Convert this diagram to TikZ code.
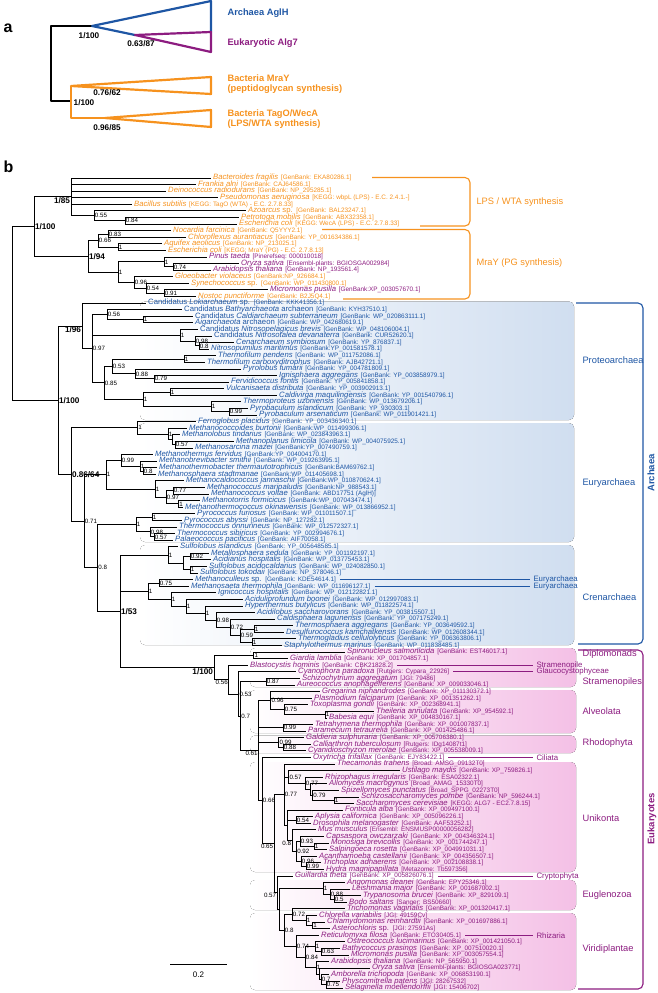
\documentclass[tikz,border=0pt]{standalone}
\usepackage{fontspec}
\setmainfont{Liberation Sans}
\definecolor{bact}{RGB}{246,146,30}
\definecolor{arch}{RGB}{30,86,164}
\definecolor{euk}{RGB}{140,28,128}
\definecolor{archbg}{RGB}{208,222,240}
\definecolor{eukbg}{RGB}{244,192,230}

% one tip: colour, row, end of branch, species, accession
\newcommand{\leaf}[5]{%
  \coordinate (t#2) at (#3,#2);
  \node[lf, text=#1] (l#2) at (t#2) {{\fontsize{7.7}{8}\selectfont\itshape #4} {\fontsize{6.4}{7}\selectfont #5}};}
% branches from a node to its children
\newcommand{\kids}[2]{\foreach \ch in {#2} {\draw[br] (#1) |- (\ch);}}
% support values
\newcommand{\sv}[3][west]{\node[supp, anchor=#1] (s#2) at (#2) {#3};}
\newcommand{\svb}[3][west]{\node[suppb, anchor=#1] (s#2) at (#2) {#3};}

\begin{document}
\begin{tikzpicture}[x=1pt, y=-1pt,
  br/.style={line width=0.9pt},
  lf/.style={anchor=west, inner sep=0pt, xshift=2pt, text height=5pt, text depth=1.4pt},
  supp/.style={inner sep=0.7pt, font=\fontsize{6.2}{7}\selectfont},
  suppb/.style={inner sep=0.8pt, font=\bfseries\fontsize{8.2}{9}\selectfont},
  grp/.style={anchor=west, font=\fontsize{9.3}{10}\selectfont},
  sub/.style={anchor=west, font=\fontsize{7.8}{9}\selectfont},
  tri/.style={line width=2.2pt, line join=round},
  brak/.style={line width=1.1pt, rounded corners=5pt},
  band/.style={left color=white, rounded corners=5pt}]
\useasboundingbox (0,0) rectangle (658,993);

% ---- panel a
\node[anchor=base west, font=\bfseries\fontsize{16}{18}\selectfont] (pa) at (0,32) {a};
\draw[tri] (92,26) -- (51,26) -- (51,101) -- (71,101);
\draw[tri, arch] (135,35) -- (92,26) -- (211,1) -- (211,32);
\draw[tri, euk] (135,35) -- (211,32) -- (211,52) -- cycle;
\draw[tri, bact] (71,86) -- (71,118) -- (105,118);
\draw[tri, bact] (71,86) -- (211,77) -- (211,94) -- cycle;
\draw[tri, bact] (105,118) -- (211,110) -- (211,127) -- cycle;
\node[suppb] (a1) at (89,36) {1/100};
\node[suppb] (a2) at (141,44) {0.63/87};
\node[suppb] (a3) at (107,93) {0.76/62};
\node[suppb] (a4) at (84,103) {1/100};
\node[suppb] (a5) at (107,128) {0.96/85};
\node[anchor=west, text=arch, font=\bfseries\fontsize{9.3}{10}\selectfont] (agl) at (224,13) {Archaea AglH};
\node[anchor=west, text=euk, font=\bfseries\fontsize{9.3}{10}\selectfont] (alg) at (224,43) {Eukaryotic Alg7};
\node[anchor=west, text=bact, font=\bfseries\fontsize{9.3}{10.5}\selectfont, align=left] (mra) at (224,84) {Bacteria MraY\\(peptidoglycan synthesis)};
\node[anchor=west, text=bact, font=\bfseries\fontsize{9.3}{10.5}\selectfont, align=left] (tag) at (224,119) {Bacteria TagO/WecA\\(LPS/WTA synthesis)};

% ---- panel b, coloured bands and brackets
\node[anchor=base west, font=\bfseries\fontsize{16}{18}\selectfont] (pb) at (0,172) {b};
\fill[band, right color=archbg] (140,301.5) rectangle (574,420);
\fill[band, right color=archbg] (140,423) rectangle (574,542);
\fill[band, right color=archbg] (140,545) rectangle (574,645);
\fill[band, right color=eukbg] (250,648) rectangle (576,687);
\fill[band, right color=eukbg] (250,690) rectangle (576,733);
\fill[band, right color=eukbg] (250,735.5) rectangle (576,753);
\fill[band, right color=eukbg] (250,762) rectangle (576,872);
\fill[band, right color=eukbg] (250,880) rectangle (576,910);
\fill[band, right color=eukbg] (250,913) rectangle (576,990);

\draw[brak, bact] (372,177.5) -- (470,177.5) -- (470,226) -- (420,226);
\draw[brak, bact] (322,229.5) -- (470,229.5) -- (470,299) -- (343,299);
\draw[brak, arch] (576,303) -- (643,303) -- (643,644) -- (578,644);
\draw[brak, euk] (578,650) -- (643,650) -- (643,989) -- (578,989);
\node[grp, text=bact] (lps) at (473,201.7) {LPS / WTA synthesis};
\node[grp, text=bact] (pg) at (473,262.7) {MraY (PG synthesis)};
\node[rotate=90, text=arch, font=\bfseries\fontsize{9.5}{10}\selectfont] (gar) at (651,473) {Archaea};
\node[rotate=90, text=euk, font=\bfseries\fontsize{9.5}{10}\selectfont] (geu) at (652,819) {Eukaryotes};
\node[grp, text=arch] (gpr) at (579,360) {Proteoarchaea};
\node[grp, text=arch] (gey) at (579,483) {Euryarchaea};
\node[grp, text=arch] (gcr) at (579,597) {Crenarchaea};
\node[grp, text=euk] (gdi) at (579,654) {Diplomonads};
\node[grp, text=euk] (gst) at (579,682) {Stramenopiles};
\node[grp, text=euk] (gal) at (579,711) {Alveolata};
\node[grp, text=euk] (grh) at (579,743) {Rhodophyta};
\node[grp, text=euk] (gun) at (579,818) {Unikonta};
\node[grp, text=euk] (geg) at (579,895) {Euglenozoa};
\node[grp, text=euk] (gvi) at (579,949) {Viridiplantae};

% scale bar
\coordinate (sb1) at (170,964.3);
\coordinate (sb2) at (227,964.3);
\draw[br] (sb1) -- (sb2);
\node[font=\fontsize{8}{9}\selectfont] (sbl) at (198.5,975) {0.2};

\begin{scope}[y=-6.585pt, yshift=-171.4pt]
% bacteria
\leaf{bact}{1}{211}{Bacteroides fragilis}{[GenBank: EKA80286.1]}
\leaf{bact}{2}{196}{Frankia alni}{[GenBank: CAJ64586.1]}
\leaf{bact}{3}{166}{Deinococcus radiodurans}{[GenBank: NP\_295285.1]}
\leaf{bact}{4}{218}{Pseudomonas aeruginosa}{[KEGG: wbpL (LPS) - E.C. 2.4.1.-]}
\leaf{bact}{5}{132}{Bacillus subtilis}{[KEGG: TagO (WTA) - E.C. 2.7.8.33]}
\leaf{bact}{6}{246}{Azoarcus \textup{sp.}}{[GenBank: BAL23247.1]}
\leaf{bact}{7}{239}{Petrotoga mobilis}{[GenBank: ABX32358.1]}
\leaf{bact}{8}{237}{Escherichia coli}{[KEGG: WecA (LPS) - E.C. 2.7.8.33]}
\leaf{bact}{9}{171}{Nocardia farcinica}{[GenBank: Q5YYY2.1]}
\leaf{bact}{10}{186}{Chloroflexus aurantiacus}{[GenBank: YP\_001634386.1]}
\leaf{bact}{11}{162}{Aquifex aeolicus}{[GenBank: NP\_213025.1]}
\leaf{bact}{12}{166}{Escherichia coli}{[KEGG: MraY (PG) - E.C. 2.7.8.13]}
\leaf{euk}{13}{207}{Pinus taeda}{[Pinerefseq: 000010018]}
\leaf{euk}{14}{239}{Oryza sativa}{[Ensembl-plants: BGIOSGA002984]}
\leaf{euk}{15}{211}{Arabidopsis thaliana}{[GenBank: NP\_193561.4]}
\leaf{bact}{16}{173}{Gloeobacter violaceus}{[GenBank:NP\_926684.1]}
\leaf{bact}{17}{189}{Synechococcus \textup{sp.}}{[GenBank: WP\_011430800.1]}
\leaf{euk}{18}{268}{Micromonas pusilla}{[GenBank:XP\_003057670.1]}
\leaf{bact}{19}{196}{Nostoc punctiforme}{[GenBank: B2J5Q4.1]}
% archaea
\leaf{arch}{20}{146}{\textup{Candidatus} Lokiarchaeum \textup{sp.}}{[GenBank: KKK41356.1]}
\leaf{arch}{21}{182}{\textup{Candidatus} Bathyarchaeota \textup{archaeon}}{[GenBank: KYH37510.1]}
\leaf{arch}{22}{193}{\textup{Candidatus} Caldiarchaeum subterraneum}{[GenBank: WP\_020863111.1]}
\leaf{arch}{23}{193}{Aigarchaeota \textup{archaeon}}{[GenBank: WP\_042680619.1]}
\leaf{arch}{24}{198}{\textup{Candidatus} Nitrosopelagicus brevis}{[GenBank: WP\_048106004.1]}
\leaf{arch}{25}{212}{\textup{Candidatus} Nitrosotalea devanaterra}{[GenBank: CUR52620.1]}
\leaf{arch}{26}{234}{Cenarchaeum symbiosum}{[GenBank: YP\_876837.1]}
\leaf{arch}{27}{209}{Nitrosopumilus maritimus}{[GenBank:YP\_001581578.1]}
\leaf{arch}{28}{216}{Thermofilum pendens}{[GenBank: WP\_011752086.1]}
\leaf{arch}{29}{205}{Thermofilum carboxyditrophus}{[GenBank: AJB42721.1]}
\leaf{arch}{30}{241}{Pyrolobus fumarii}{[GenBank: YP\_004781809.1]}
\leaf{arch}{31}{277}{Ignisphaera aggregans}{[GenBank: YP\_003858979.1]}
\leaf{arch}{32}{229}{Fervidicoccus fontis}{[GenBank: YP\_005841858.1]}
\leaf{arch}{33}{224}{Vulcanisaeta distributa}{[GenBank: YP\_003902913.1]}
\leaf{arch}{34}{277}{Caldivirga maquilingensis}{[GenBank: YP\_001540796.1]}
\leaf{arch}{35}{241}{Thermoproteus uzoniensis}{[GenBank: WP\_013679206.1]}
\leaf{arch}{36}{248}{Pyrobaculum islandicum}{[GenBank: YP\_930303.1]}
\leaf{arch}{37}{257}{Pyrobaculum arsenaticum}{[GenBank: WP\_011901421.1]}
\leaf{arch}{38}{196}{Ferroglobus placidus}{[GenBank: YP\_003436340.1]}
\leaf{arch}{39}{187}{Methanococcoides burtonii}{[GenBank:WP\_011499306.1]}
\leaf{arch}{40}{180}{Methanolobus tindarius}{[GenBank: WP\_023843963.1]}
\leaf{arch}{41}{234}{Methanoplanus limicola}{[GenBank: WP\_004075925.1]}
\leaf{arch}{42}{193}{Methanosarcina mazei}{[GenBank:YP\_007490759.1]}
\leaf{arch}{43}{153}{Methanothermus fervidus}{[GenBank:YP\_004004170.1]}
\leaf{arch}{44}{157}{Methanobrevibacter smithii}{[GenBank: WP\_019263995.1]}
\leaf{arch}{45}{157}{Methanothermobacter thermautotrophicus}{[GenBank:BAM69762.1]}
\leaf{arch}{46}{156}{Methanosphaera stadtmanae}{[GenBank:WP\_011405698.1]}
\leaf{arch}{47}{184}{Methanocaldococcus jannaschii}{[GenBank:WP\_010870624.1]}
\leaf{arch}{48}{205}{Methanococcus maripaludis}{[GenBank:NP\_988543.1]}
\leaf{arch}{49}{209}{Methanococcus voltae}{[GenBank: ABD17751 (AglH)]}
\leaf{arch}{50}{200}{Methanotorris formicicus}{[GenBank:WP\_007043474.1]}
\leaf{arch}{51}{183}{Methanothermococcus okinawensis}{[GenBank: WP\_013866952.1]}
\leaf{arch}{52}{195}{Pyrococcus furiosus}{[GenBank: WP\_011011507.1]}
\leaf{arch}{53}{182}{Pyrococcus abyssi}{[GenBank: NP\_127282.1]}
\leaf{arch}{54}{177}{Thermococcus onnurineus}{[GenBank: WP\_012572327.1]}
\leaf{arch}{55}{175}{Thermococcus sibiricus}{[GenBank: YP\_002994676.1]}
\leaf{arch}{56}{173}{Palaeococcus pacificus}{[GenBank: AIF70058.1]}
\leaf{arch}{57}{178}{Sulfolobus islandicus}{[GenBank: YP\_005648585.1]}
\leaf{arch}{58}{209}{Metallosphaera sedula}{[GenBank: YP\_001192197.1]}
\leaf{arch}{59}{211}{Acidianus hospitalis}{[GenBank: WP\_013775453.1]}
\leaf{arch}{60}{207}{Sulfolobus acidocaldarius}{[GenBank: WP\_024082850.1]}
\leaf{arch}{61}{198}{Sulfolobus tokodaii}{[GenBank: NP\_378046.1]}
\leaf{arch}{62}{193}{Methanoculleus \textup{sp.}}{[GenBank: KDE54614.1]}
\leaf{arch}{63}{189}{Methanosaeta thermophila}{[GenBank: WP\_011696127.1]}
\leaf{arch}{64}{216}{Ignicoccus hospitalis}{[GenBank: WP\_012122821.1]}
\leaf{arch}{65}{243}{Aciduliprofundum boonei}{[GenBank: WP\_012997083.1]}
\leaf{arch}{66}{243}{Hyperthermus butylicus}{[GenBank: WP\_011822574.1]}
\leaf{arch}{67}{255}{Acidilobus saccharovorans}{[GenBank: YP\_003815507.1]}
\leaf{arch}{68}{275}{Caldisphaera lagunensis}{[GenBank: YP\_007175249.1]}
\leaf{arch}{69}{293}{Thermosphaera aggregans}{[GenBank: YP\_003649592.1]}
\leaf{arch}{70}{284}{Desulfurococcus kamchatkensis}{[GenBank: WP\_012608344.1]}
\leaf{arch}{71}{296}{Thermogladius cellulolyticus}{[GenBank: YP\_006363806.1]}
\leaf{arch}{72}{282}{Staphylothermus marinus}{[GenBank: WP\_011838485.1]}
% eukaryotes
\leaf{euk}{73}{345}{Spironucleus salmonicida}{[GenBank: EST46017.1]}
\leaf{euk}{74}{288}{Giardia lamblia}{[GenBank: XP\_001704857.1]}
\leaf{euk}{75}{248}{Blastocystis hominis}{[GenBank: CBK21828.2]}
\leaf{euk}{76}{296}{Cyanophora paradoxa}{[Rutgers: Cypara\_22926]}
\leaf{euk}{77}{300}{Schizochytrium aggregatum}{[JGI: 79486]}
\leaf{euk}{78}{295}{Aureococcus anophagefferens}{[GenBank: XP\_009033046.1]}
\leaf{euk}{79}{320}{Gregarina niphandrodes}{[GenBank: XP\_011130372.1]}
\leaf{euk}{80}{312}{Plasmodium falciparum}{[GenBank: XP\_001351262.1]}
\leaf{euk}{81}{308}{Toxoplasma gondii}{[GenBank: XP\_002368941.1]}
\leaf{euk}{82}{374}{Theileria annulata}{[GenBank: XP\_954592.1]}
\leaf{euk}{83}{327}{Babesia equi}{[GenBank: XP\_004830167.1]}
\leaf{euk}{84}{313}{Tetrahymena thermophila}{[GenBank: XP\_001007837.1]}
\leaf{euk}{85}{306}{Paramecium tetraurelia}{[GenBank: XP\_001425486.1]}
\leaf{euk}{86}{304}{Galdieria sulphuraria}{[GenBank: XP\_005706380.1]}
\leaf{euk}{87}{311}{Calliarthron tuberculosum}{[Rutgers: IDg14087t1]}
\leaf{euk}{88}{306}{Cyanidioschyzon merolae}{[GenBank: XP\_005538009.1]}
\leaf{euk}{89}{311}{Oxytricha trifallax}{[GenBank: EJY83422.1]}
\leaf{euk}{90}{335}{Thecamonas trahens}{[Broad: AMSG\_09132T0]}
\leaf{euk}{91}{400}{Ustilago maydis}{[GenBank: XP\_759826.1]}
\leaf{euk}{92}{323}{Rhizophagus irregularis}{[GenBank: ESA02322.1]}
\leaf{euk}{93}{327}{Allomyces macrogynus}{[Broad\_AMAG\_15330T0]}
\leaf{euk}{94}{339}{Spizellomyces punctatus}{[Broad\_SPPG\_02273T0]}
\leaf{euk}{95}{359}{Schizosaccharomyces pombe}{[GenBank: NP\_596244.1]}
\leaf{euk}{96}{354}{Saccharomyces cerevisiae}{[KEGG: ALG7 - EC2.7.8.15]}
\leaf{euk}{97}{343}{Fonticula alba}{[GenBank: XP\_009497100.1]}
\leaf{euk}{98}{313}{Aplysia californica}{[GenBank: XP\_005096226.1]}
\leaf{euk}{99}{311}{Drosophila melanogaster}{[GenBank: AAF53252.1]}
\leaf{euk}{100}{316}{Mus musculus}{[Ensembl: ENSMUSP00000056282]}
\leaf{euk}{101}{324}{Capsaspora owczarzaki}{[GenBank: XP\_004346324.1]}
\leaf{euk}{102}{329}{Monosiga brevicollis}{[GenBank: XP\_001744247.1]}
\leaf{euk}{103}{327}{Salpingoeca rosetta}{[GenBank: XP\_004991031.1]}
\leaf{euk}{104}{317}{Acanthamoeba castellanii}{[GenBank: XP\_004356507.1]}
\leaf{euk}{105}{321}{Trichoplax adhaerens}{[GenBank: XP\_002108838.1]}
\leaf{euk}{106}{324}{Hydra magnipapillata}{[Metazome: Tb597356]}
\leaf{euk}{107}{293}{Guillardia theta}{[GenBank: XP\_005826076.1]}
\leaf{euk}{108}{345}{Angomonas deanei}{[GenBank: EPY25346.1]}
\leaf{euk}{109}{350}{Leishmania major}{[GenBank: XP\_001687002.1]}
\leaf{euk}{110}{361}{Trypanosoma brucei}{[GenBank: XP\_829109.1]}
\leaf{euk}{111}{347}{Bodo saltans}{[Sanger: BS50660]}
\leaf{euk}{112}{345}{Trichomonas vaginalis}{[GenBank: XP\_001320417.1]}
\leaf{euk}{113}{317}{Chlorella variabilis}{[JGI: 49159Cv]}
\leaf{euk}{114}{325}{Chlamydomonas reinhardtii}{[GenBank: XP\_001697886.1]}
\leaf{euk}{115}{330}{Asterochloris \textup{sp.}}{[JGI: 27591As]}
\leaf{euk}{116}{319}{Reticulomyxa filosa}{[GenBank: ETO30405.1]}
\leaf{euk}{117}{345}{Ostreococcus lucimarinus}{[GenBank: XP\_001421050.1]}
\leaf{euk}{118}{340}{Bathycoccus prasinos}{[GenBank: XP\_007510020.1]}
\leaf{euk}{119}{349}{Micromonas pusilla}{[GenBank: XP\_003057554.1]}
\leaf{euk}{120}{329}{Arabidopsis thaliana}{[GenBank: NP\_565950.1]}
\leaf{euk}{121}{370}{Oryza sativa}{[Ensembl-plants: BGIOSGA023771]}
\leaf{euk}{122}{329}{Amborella trichopoda}{[GenBank: XP\_006853190.1]}
\leaf{euk}{123}{340}{Physcomitrella patens}{[JGI: 28267532]}
\leaf{euk}{124}{343}{Selaginella moellendorffii}{[JGI: 15406702]}

% inner nodes
\coordinate (R) at (12.5,21.6);
\coordinate (Bc) at (34,8.39);
\coordinate (L) at (71,3.875);
\coordinate (AZ) at (94,6.75);
\coordinate (PE) at (125,7.5);
\coordinate (M) at (88,12.9);
\coordinate (M1) at (98,10.5);
\coordinate (NC) at (108,9.5);
\coordinate (AE) at (118,11.5);
\coordinate (M2) at (118,15.31);
\coordinate (PO) at (164,13.75);
\coordinate (OA) at (173,14.5);
\coordinate (GL) at (134,16.875);
\coordinate (SY) at (146,17.75);
\coordinate (MN) at (164,18.5);
\coordinate (A) at (58,34.76);
\coordinate (P1) at (82,23.47);
\coordinate (X) at (92,26.94);
\coordinate (B) at (107,21.75);
\coordinate (CA) at (143,22.5);
\coordinate (C3) at (180,24.875);
\coordinate (C2) at (195,25.75);
\coordinate (C1) at (199,26.5);
\coordinate (Z) at (104,32.125);
\coordinate (Z1) at (112,29.625);
\coordinate (TF) at (184,28.5);
\coordinate (PI) at (135,30.75);
\coordinate (IF) at (154,31.5);
\coordinate (Z2) at (143,34.625);
\coordinate (VC) at (170,33.5);
\coordinate (TP) at (211,35.75);
\coordinate (PB) at (229,36.5);
\coordinate (E0) at (71,46.04);
\coordinate (F) at (137.5,38.94);
\coordinate (G) at (168,39.875);
\coordinate (H) at (172,40.75);
\coordinate (I) at (175,41.5);
\coordinate (N71) at (84,53.13);
\coordinate (Mt) at (106,46.06);
\coordinate (MB) at (121,43.875);
\coordinate (MB2) at (140,44.75);
\coordinate (MB3) at (143,45.5);
\coordinate (MC) at (155,48.25);
\coordinate (MC2) at (166,49.5);
\coordinate (MC3) at (173,48.5);
\coordinate (MC4) at (178.5,50.5);
\coordinate (N8) at (97.5,60.2);
\coordinate (T) at (136,53.63);
\coordinate (PY) at (152,52.5);
\coordinate (TC) at (150,54.75);
\coordinate (TC2) at (154,55.5);
\coordinate (Cr) at (120,66.8);
\coordinate (S) at (168,58.25);
\coordinate (S2) at (183,59.5);
\coordinate (SA) at (190,58.5);
\coordinate (SB) at (190,60.5);
\coordinate (Cr2) at (148,63.76);
\coordinate (MM) at (159,62.5);
\coordinate (Ig) at (171,65.02);
\coordinate (Ig2) at (186,66.03);
\coordinate (Ig3) at (205,67.06);
\coordinate (Ig4) at (216,68.125);
\coordinate (Ig5) at (230,69.25);
\coordinate (Ig6) at (240,70.5);
\coordinate (Ig7) at (254,69.5);
\coordinate (Ig8) at (252,71.5);
\coordinate (Eu) at (214,75.34);
\coordinate (Dp) at (253.6,73.5);
\coordinate (E1) at (228.6,77.18);
\coordinate (E2) at (238.6,79.37);
\coordinate (E2b) at (240.5,82.73);
\coordinate (St) at (266,77.5);
\coordinate (Y1) at (258.5,87.96);
\coordinate (Ap0) at (270.7,80.375);
\coordinate (Ap2) at (284,81.75);
\coordinate (Ap3) at (325,82.5);
\coordinate (Ci) at (283,84.5);
\coordinate (Rh) at (278.6,86.75);
\coordinate (Rh2) at (283,87.5);
\coordinate (W) at (262,95.55);
\coordinate (V) at (274,102.1);
\coordinate (Op) at (284,94.66);
\coordinate (Fu1) at (288.6,91.97);
\coordinate (Fu2) at (305,92.94);
\coordinate (Fu2b) at (310,93.875);
\coordinate (Fu3) at (312.5,94.75);
\coordinate (Fy) at (334,95.5);
\coordinate (Ho) at (287.5,99.3);
\coordinate (AD) at (296,98.5);
\coordinate (Hz) at (292,101.625);
\coordinate (Q) at (296.4,103.25);
\coordinate (Cp) at (300,101.75);
\coordinate (MS) at (314,102.5);
\coordinate (Ac) at (301,104.75);
\coordinate (Tr) at (306,105.5);
\coordinate (V2) at (277,109.54);
\coordinate (V3) at (279,112.07);
\coordinate (Eg) at (323,108.875);
\coordinate (Eg2) at (330,109.75);
\coordinate (Eg3) at (334,110.5);
\coordinate (G8) at (284,115.27);
\coordinate (G72) at (292,112.875);
\coordinate (Ch) at (306,113.75);
\coordinate (Ch2) at (312.5,114.5);
\coordinate (G74) at (296,117.67);
\coordinate (G84) at (305,119.34);
\coordinate (Os) at (315,117.75);
\coordinate (Os2) at (321,118.5);
\coordinate (LP) at (316,120.94);
\coordinate (LP2) at (319,121.875);
\coordinate (LP3) at (321,122.75);
\coordinate (LP4) at (326,123.5);

% branches
\kids{R}{Bc,A}
\kids{Bc}{L,M}
\kids{L}{t1,t2,t3,t4,t5,AZ}
\kids{AZ}{t6,PE}
\kids{PE}{t7,t8}
\kids{M}{M1,M2}
\kids{M1}{NC,AE}
\kids{NC}{t9,t10}
\kids{AE}{t11,t12}
\kids{M2}{PO,GL}
\kids{PO}{t13,OA}
\kids{OA}{t14,t15}
\kids{GL}{t16,SY}
\kids{SY}{t17,MN}
\kids{MN}{t18,t19}
\kids{A}{P1,E0}
\kids{P1}{t20,X}
\kids{X}{B,C3,Z}
\kids{B}{t21,CA}
\kids{CA}{t22,t23}
\kids{C3}{t24,C2}
\kids{C2}{t25,C1}
\kids{C1}{t26,t27}
\kids{Z}{Z1,Z2}
\kids{Z1}{TF,PI}
\kids{TF}{t28,t29}
\kids{PI}{t30,IF}
\kids{IF}{t31,t32}
\kids{Z2}{VC,TP}
\kids{VC}{t33,t34}
\kids{TP}{t35,PB}
\kids{PB}{t36,t37}
\kids{E0}{F,N71}
\kids{F}{t38,G}
\kids{G}{t39,H}
\kids{H}{t40,I}
\kids{I}{t41,t42}
\kids{N71}{Mt,N8}
\kids{Mt}{MB,MC}
\kids{MB}{t43,MB2}
\kids{MB2}{t44,MB3}
\kids{MB3}{t45,t46}
\kids{MC}{t47,MC2}
\kids{MC2}{MC3,MC4}
\kids{MC3}{t48,t49}
\kids{MC4}{t50,t51}
\kids{N8}{T,Cr}
\kids{T}{PY,TC}
\kids{PY}{t52,t53}
\kids{TC}{t54,TC2}
\kids{TC2}{t55,t56}
\kids{Cr}{S,Cr2,Eu}
\kids{S}{t57,S2}
\kids{S2}{SA,SB}
\kids{SA}{t58,t59}
\kids{SB}{t60,t61}
\kids{Cr2}{MM,Ig}
\kids{MM}{t62,t63}
\kids{Ig}{t64,Ig2}
\kids{Ig2}{t65,Ig3}
\kids{Ig3}{t66,Ig4}
\kids{Ig4}{t67,Ig5}
\kids{Ig5}{t68,Ig6}
\kids{Ig6}{Ig7,Ig8}
\kids{Ig7}{t69,t70}
\kids{Ig8}{t71,t72}
\kids{Eu}{Dp,E1}
\kids{Dp}{t73,t74}
\kids{E1}{t75,E2}
\kids{E2}{t76,E2b}
\kids{E2b}{St,Y1}
\kids{St}{t77,t78}
\kids{Y1}{Ap0,Ci,Rh,W}
\kids{Ap0}{t79,t80,Ap2}
\kids{Ap2}{t81,Ap3}
\kids{Ap3}{t82,t83}
\kids{Ci}{t84,t85}
\kids{Rh}{t86,Rh2}
\kids{Rh2}{t87,t88}
\kids{W}{t89,V}
\kids{V}{Op,V2}
\kids{Op}{t90,Fu1,Ho}
\kids{Fu1}{t91,Fu2}
\kids{Fu2}{t92,Fu2b}
\kids{Fu2b}{t93,Fu3}
\kids{Fu3}{t94,Fy}
\kids{Fy}{t95,t96}
\kids{Ho}{t97,AD,Hz}
\kids{AD}{t98,t99}
\kids{Hz}{t100,Q}
\kids{Q}{Cp,Ac}
\kids{Cp}{t101,MS}
\kids{MS}{t102,t103}
\kids{Ac}{t104,Tr}
\kids{Tr}{t105,t106}
\kids{V2}{t107,V3}
\kids{V3}{Eg,G8}
\kids{Eg}{t108,Eg2}
\kids{Eg2}{t109,Eg3}
\kids{Eg3}{t110,t111}
\kids{G8}{G72,G74}
\kids{G72}{t112,Ch}
\kids{Ch}{t113,Ch2}
\kids{Ch2}{t114,t115}
\kids{G74}{t116,G84}
\kids{G84}{Os,LP}
\kids{Os}{t117,Os2}
\kids{Os2}{t118,t119}
\kids{LP}{t120,LP2}
\kids{LP2}{t121,LP3}
\kids{LP3}{t122,LP4}
\kids{LP4}{t123,t124}

% support values
\svb[north east]{L}{1/85}
\svb{Bc}{1/100}
\svb{M}{1/94}
\svb[north east]{P1}{1/96}
\svb{A}{1/100}
\svb{E0}{0.86/64}
\svb{Cr}{1/53}
\svb[north east]{Eu}{1/100}
\sv{AZ}{0.55}
\sv{PE}{0.84}
\sv{NC}{0.83}
\sv{AE}{1}
\sv{M1}{0.66}
\sv{PO}{1}
\sv{OA}{0.74}
\sv{GL}{0.96}
\sv{SY}{0.54}
\sv{MN}{0.91}
\sv{M2}{1}
\sv{X}{0.97}
\sv{B}{0.56}
\sv{CA}{1}
\sv{C3}{1}
\sv{C2}{0.98}
\sv{C1}{0.8}
\sv{Z}{0.85}
\sv{Z1}{0.53}
\sv{TF}{1}
\sv{PI}{0.88}
\sv{IF}{0.79}
\sv{Z2}{1}
\sv{VC}{1}
\sv{TP}{1}
\sv{PB}{0.99}
\sv{F}{1}
\sv{G}{1}
\sv{I}{0.57}
\sv{N71}{0.71}
\sv{Mt}{1}
\sv{MB}{0.99}
\sv{MB2}{1}
\sv{MB3}{0.8}
\sv{MC}{1}
\sv{MC2}{0.97}
\sv{MC3}{0.77}
\sv{MC4}{1}
\sv{N8}{0.8}
\sv{T}{1}
\sv{PY}{1}
\sv{TC}{0.98}
\sv{TC2}{0.57}
\sv{S}{1}
\sv{SA}{0.92}
\sv{SB}{1}
\sv{Cr2}{1}
\sv{MM}{0.75}
\sv{Ig}{1}
\sv{Ig2}{1}
\sv{Ig3}{1}
\sv{Ig4}{0.98}
\sv{Ig5}{0.72}
\sv{Ig6}{0.59}
\sv{Ig7}{1}
\sv{Ig8}{1}
\sv{Dp}{1}
\sv[north east]{E1}{0.56}
\sv{E2}{0.53}
\sv{E2b}{0.7}
\sv{St}{0.87}
\sv[north east]{Y1}{0.61}
\sv{Ap0}{0.96}
\sv{Ap2}{0.75}
\sv{Ap3}{1}
\sv{Ci}{0.99}
\sv{Rh}{0.99}
\sv{Rh2}{0.88}
\sv{W}{0.66}
\sv[north east]{V}{0.65}
\sv{Op}{0.77}
\sv{Fu1}{0.57}
\sv{Fu2}{0.77}
\sv{Fu3}{0.79}
\sv{Fy}{1}
\sv{AD}{0.54}
\sv[north east]{Hz}{0.8}
\sv{Q}{0.92}
\sv{Cp}{0.93}
\sv{MS}{1}
\sv{Ac}{0.96}
\sv{Tr}{0.99}
\sv[north east]{V2}{0.57}
\sv{Eg}{1}
\sv{Eg2}{0.88}
\sv{Eg3}{0.5}
\sv{G8}{0.8}
\sv{G72}{0.72}
\sv{Ch}{1}
\sv{Ch2}{1}
\sv{G74}{0.74}
\sv{G84}{0.84}
\sv{Os}{1}
\sv{Os2}{0.63}
\sv{LP}{1}
\sv{LP3}{0.7}
\sv{LP4}{0.75}

% single tips pointing to their group
\node[sub, text=arch] (ey1) at (530,62) {Euryarchaea};
\node[sub, text=arch] (ey2) at (530,63) {Euryarchaea};
\node[sub, text=euk] (sto) at (533,75) {Stramenopile};
\node[sub, text=euk] (gla) at (533,76) {Glaucocystophyceae};
\node[sub, text=euk] (cil) at (533,89) {Ciliata};
\node[sub, text=euk] (cry) at (533,107) {Cryptophyta};
\node[sub, text=euk] (rhi) at (533,116) {Rhizaria};
\draw[arch, line width=0.9pt] ([xshift=4pt]l62.east) -- (ey1.west);
\draw[arch, line width=0.9pt] ([xshift=4pt]l63.east) -- (ey2.west);
\draw[euk, line width=0.9pt] ([xshift=4pt]l75.east) -- (sto.west);
\draw[euk, line width=0.9pt] ([xshift=4pt]l76.east) -- (gla.west);
\draw[euk, line width=0.9pt] ([xshift=4pt]l89.east) -- (cil.west);
\draw[euk, line width=0.9pt] ([xshift=4pt]l107.east) -- (cry.west);
\draw[euk, line width=0.9pt] ([xshift=4pt]l116.east) -- (rhi.west);
\end{scope}
\end{tikzpicture}
\end{document}
